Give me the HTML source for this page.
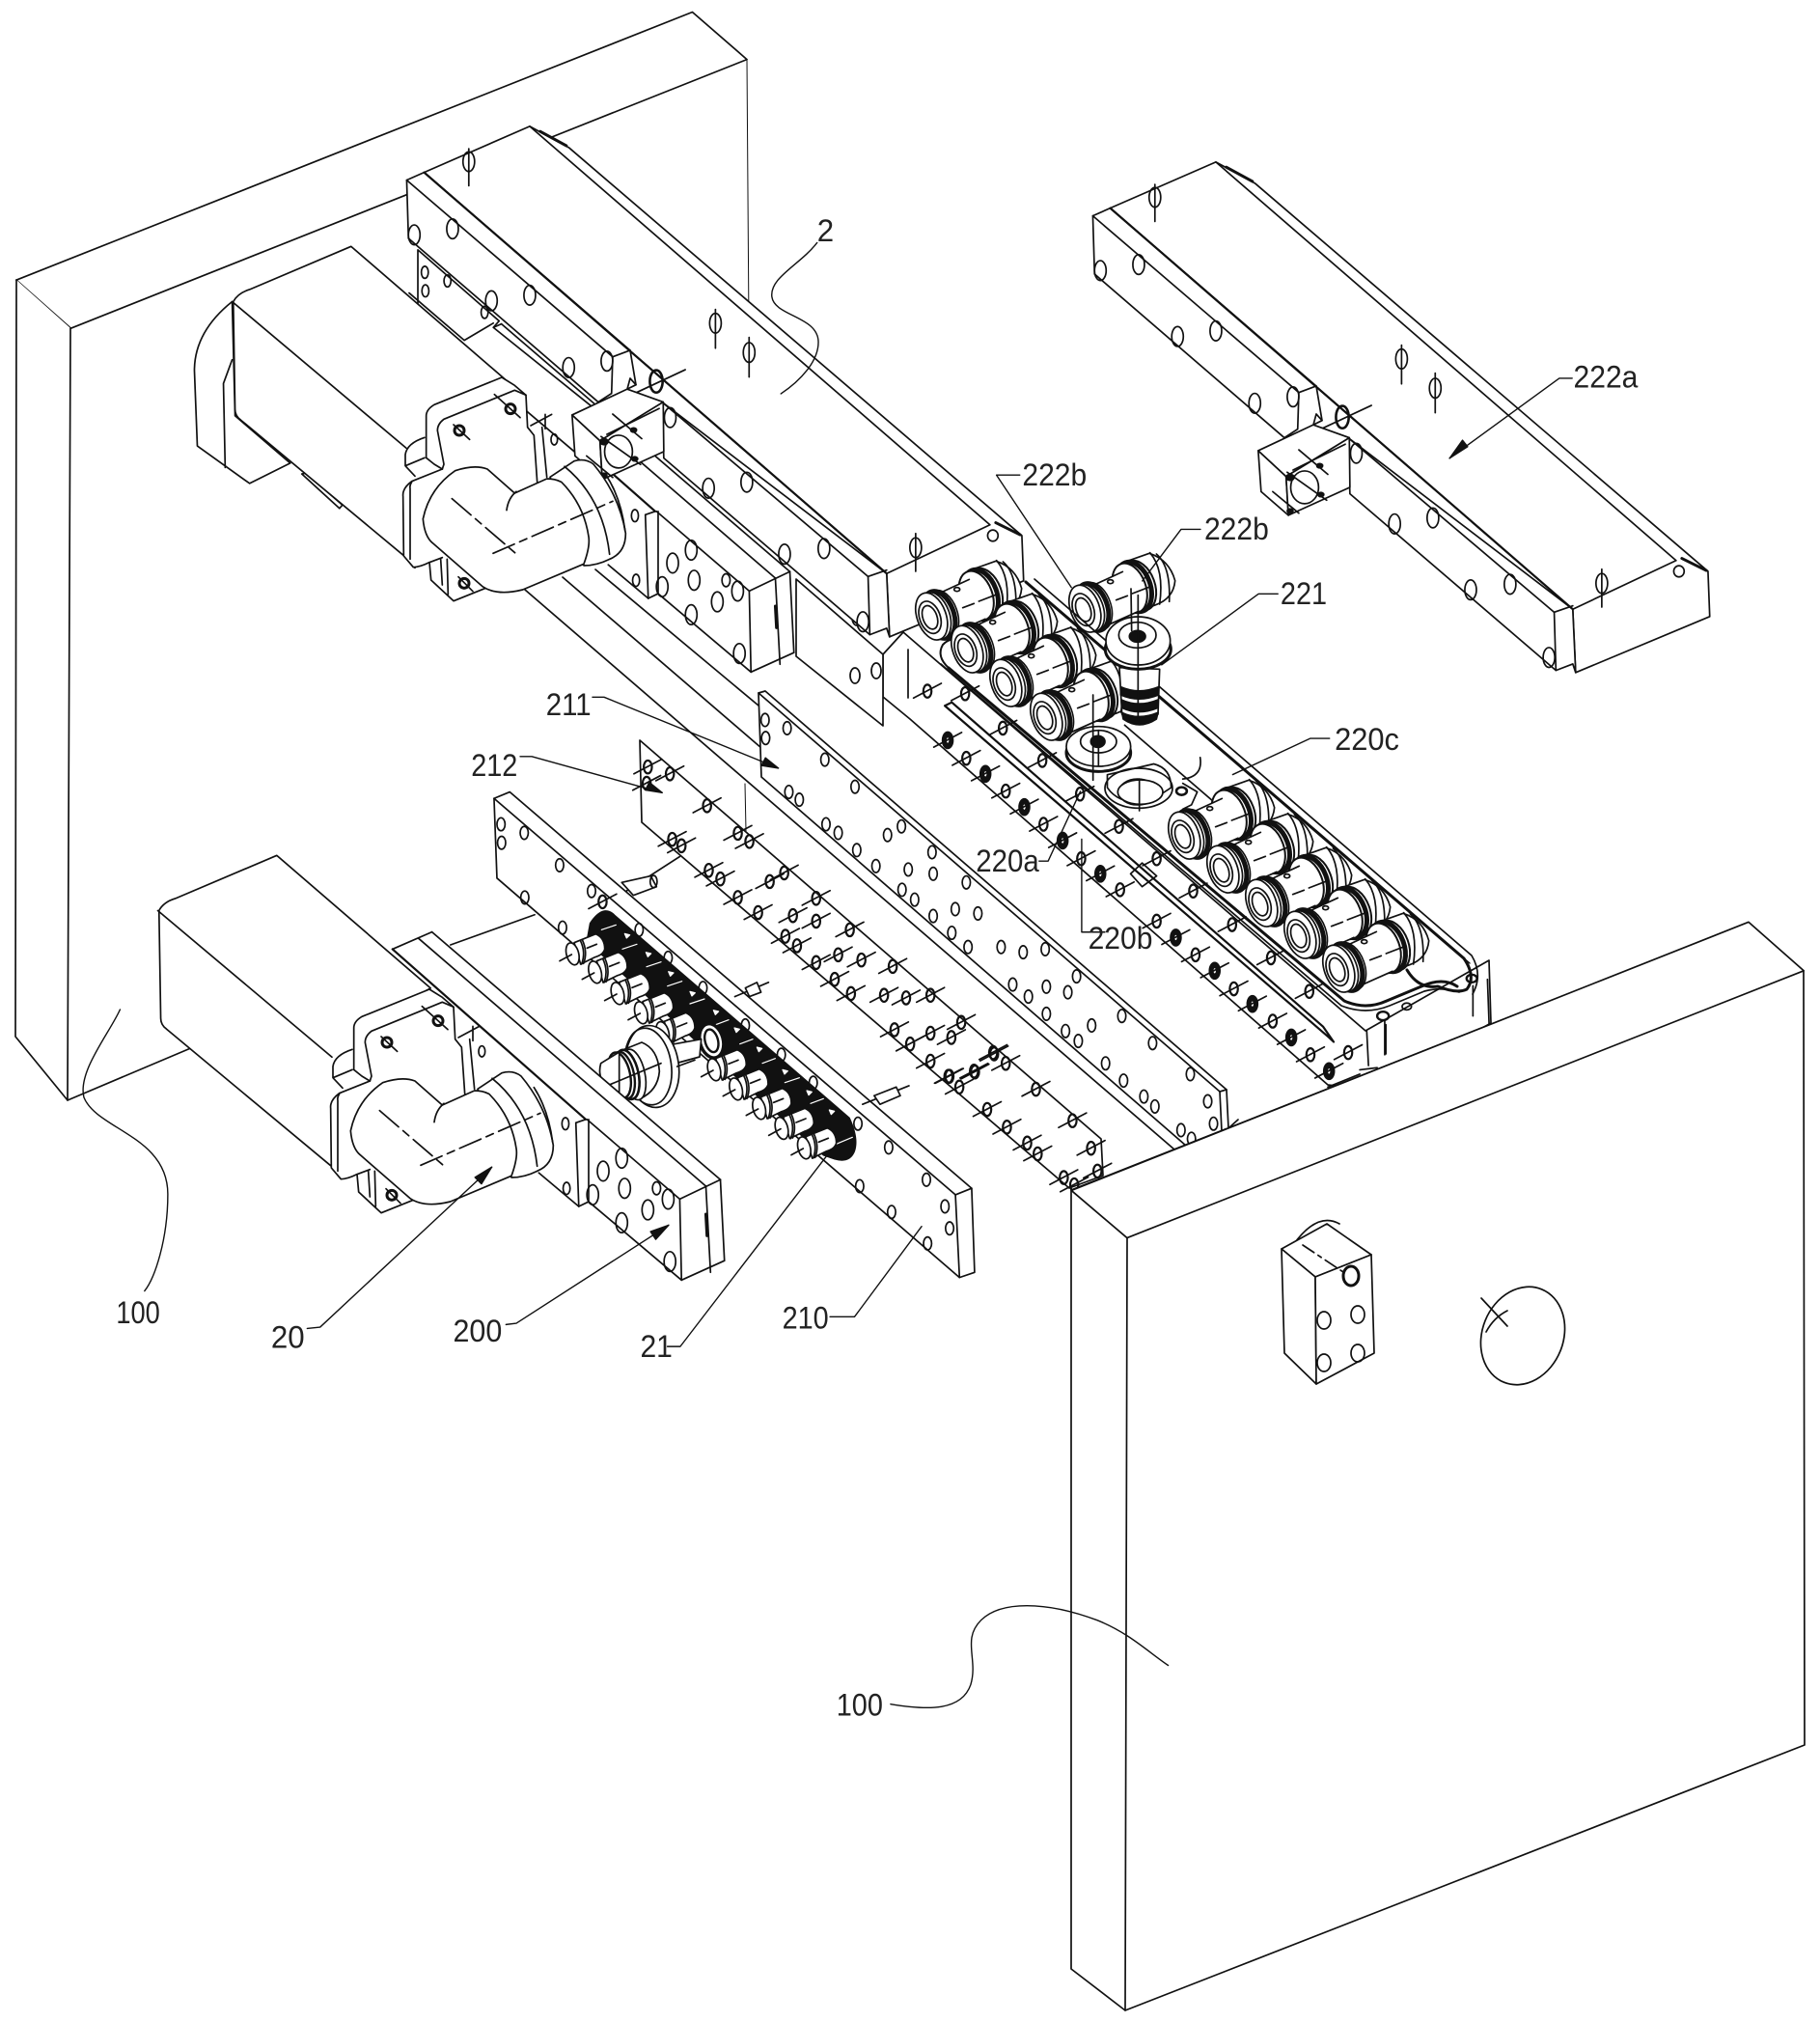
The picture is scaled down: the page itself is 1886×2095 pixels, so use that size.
<!DOCTYPE html>
<html><head><meta charset="utf-8"><title>Diagram</title>
<style>
html,body{margin:0;padding:0;background:#fff}
svg{display:block}
*{vector-effect:non-scaling-stroke}
g.d,use{fill:#fff;stroke:#111;stroke-width:1.7;stroke-linejoin:round;stroke-linecap:round}
.n{fill:none}
.t{stroke-width:2.2}
text{font-family:"Liberation Sans",sans-serif;font-size:24px;fill:#222;stroke:none}
</style></head><body>
<svg xmlns="http://www.w3.org/2000/svg" width="1886" height="2095" viewBox="0 0 1886 2095">
<rect width="1886" height="2095" fill="#fff"/>
<defs>
<g id="c"><ellipse cx="0" cy="0" rx="7" ry="15" fill="none" stroke-width="2.2"/><line x1="-24" y1="16" x2="24" y2="-18"/></g>
<g id="cb"><ellipse cx="0" cy="0" rx="9" ry="19" fill="#111"/><ellipse cx="0" cy="0" rx="2" ry="6" fill="#fff" stroke="none"/><line x1="-24" y1="16" x2="24" y2="-18"/></g>
<ellipse id="o" cx="0" cy="0" rx="7" ry="15" fill="none"/>
<ellipse id="b" cx="0" cy="0" rx="10" ry="23" fill="none"/>
<g id="cp">
<path d="M98,-140 L183,-170 Q245,-150 263,-85 Q258,-30 203,-10 L150,10 Z"/>
<path d="M205,-168 Q250,-130 245,-20" fill="none"/>
<path d="M185,-172 Q230,-120 215,-12" fill="none"/>
<ellipse cx="150" cy="-70" rx="50" ry="80" transform="rotate(-20 150 -70)" stroke-width="2"/>
<ellipse cx="136" cy="-66" rx="50" ry="80" transform="rotate(-20 136 -66)" stroke-width="5"/>
<ellipse cx="122" cy="-62" rx="50" ry="80" transform="rotate(-20 122 -62)" stroke-width="2"/>
<path d="M18,-75 L98,-110 L115,-60 L142,12 L60,50 Z" stroke="none"/>
<path d="M18,-75 L100,-113 M150,10 L60,50" fill="none"/>
<ellipse cx="18" cy="-6" rx="45" ry="76" transform="rotate(-20 18 -6)" stroke-width="1.6"/>
<ellipse cx="7" cy="-3" rx="45" ry="76" transform="rotate(-20 7 -3)" stroke-width="5"/>
<ellipse cx="-6" cy="0" rx="45" ry="76" transform="rotate(-20 -6 0)"/>
<ellipse cx="-17" cy="2" rx="45" ry="76" transform="rotate(-20 -17 2)"/>
<ellipse cx="-22" cy="5" rx="32" ry="52" transform="rotate(-20 -22 5)"/>
<ellipse cx="-22" cy="5" rx="22" ry="38" transform="rotate(-20 -22 5)"/>
<line x1="80" y1="-25" x2="115" y2="-38"/><line x1="130" y1="-45" x2="190" y2="-68"/>
<ellipse cx="62" cy="-82" rx="9" ry="6" fill="none"/>
</g>
<g id="pin">
<path d="M5,-35 L72,-62 Q100,-50 100,-15 Q95,3 70,10 L25,32 Z"/>
<path d="M24,-42 Q42,-5 28,32" fill="none"/><path d="M30,-44 Q48,-5 34,30" fill="none"/>
<ellipse cx="0" cy="0" rx="19" ry="35" transform="rotate(-15)"/>
<line x1="-40" y1="22" x2="-3" y2="2"/><line x1="45" y1="-18" x2="75" y2="-30"/>
</g>
<g id="act" transform="matrix(.6014,0,0,.4464,943,150)">
<path d="M527,40 L595,90 L1375,990 L1378,1095 L1147,1225 L1142,1078 Z"/>
<path d="M345,147 L527,40 L1320,965 L1142,1078 Z"/>
<path d="M315,165 L345,147 L700,560 L670,575 L668,660 L645,680 L318,300 Z"/>
<path d="M755,680 L1142,1078 L1147,1225 L1142,1205 L1113,1220 L758,810 Z"/>
<line x1="345" y1="147" x2="1142" y2="1078" class="t"/>
<line x1="1110" y1="1085" x2="1113" y2="1220"/><line x1="1110" y1="1085" x2="1142" y2="1070"/>
<line x1="755" y1="680" x2="1110" y2="1085"/><line x1="315" y1="165" x2="670" y2="575"/>
<line x1="700" y1="560" x2="710" y2="640"/><path d="M695,650 L700,625 L710,640 Z" fill="none"/>
<use href="#b" x="328" y="292"/><use href="#b" x="394" y="278"/><use href="#b" x="461" y="445"/><use href="#b" x="527" y="432"/><use href="#b" x="594" y="600"/><use href="#b" x="660" y="585"/><use href="#b" x="769" y="716"/><use href="#b" x="835" y="880"/><use href="#b" x="901" y="866"/><use href="#b" x="966" y="1033"/><use href="#b" x="1034" y="1020"/><use href="#b" x="1101" y="1190"/>
<use href="#b" x="422" y="122"/><line x1="422" y1="92" x2="422" y2="178"/>
<use href="#b" x="847" y="497"/><line x1="847" y1="465" x2="847" y2="555"/>
<use href="#b" x="905" y="565"/><line x1="905" y1="530" x2="905" y2="622"/>
<use href="#b" x="1192" y="1018"/><line x1="1192" y1="985" x2="1192" y2="1073"/>
<ellipse cx="745" cy="632" rx="11" ry="26" fill="none" stroke-width="2.6"/><line x1="695" y1="668" x2="795" y2="605"/>
<line x1="545" y1="52" x2="590" y2="85" stroke-width="3"/><line x1="1330" y1="960" x2="1372" y2="988" stroke-width="3"/>
<ellipse cx="1325" cy="990" rx="9" ry="13" fill="none"/>
<path d="M600,710 L695,650 L757,680 L648,770 Z"/>
<path d="M600,710 L648,770 L652,860 L605,805 Z"/>
<path d="M648,770 L757,680 L758,795 L652,860 Z"/>
<line x1="660" y1="755" x2="750" y2="695"/><line x1="670" y1="708" x2="720" y2="765"/>
<ellipse cx="680" cy="795" rx="24" ry="38" fill="none"/>
<line x1="650" y1="760" x2="718" y2="825"/><line x1="625" y1="805" x2="670" y2="855"/>
<circle cx="655" cy="772" r="7" fill="#111"/><circle cx="706" cy="745" r="5" fill="#111"/><circle cx="708" cy="812" r="5" fill="#111"/><circle cx="655" cy="850" r="5" fill="#111"/>
</g>
<g id="p200" transform="matrix(.6014,0,0,.4464,100,700)">
<path d="M555,610 L578,595 L1075,1170 L1082,1358 L1008,1403 L845,1215 L835,1230 L765,1150 L620,780 Z" stroke="none"/>
<line x1="510" y1="635" x2="843" y2="1030" class="t"/>
<line x1="510" y1="635" x2="578" y2="595"/><line x1="555" y1="610" x2="1050" y2="1185"/><line x1="578" y1="595" x2="1075" y2="1170"/>
<line x1="1005" y1="1215" x2="1075" y2="1170"/><line x1="1005" y1="1215" x2="1008" y2="1403"/>
<line x1="845" y1="1030" x2="1005" y2="1215"/><line x1="848" y1="1030" x2="848" y2="1221"/>
<line x1="1050" y1="1185" x2="1058" y2="1385"/><line x1="826" y1="1038" x2="831" y2="1232"/><line x1="826" y1="1038" x2="843" y2="1030"/>
<line x1="1075" y1="1170" x2="1082" y2="1358"/><line x1="1082" y1="1358" x2="1008" y2="1403"/><line x1="848" y1="1221" x2="1008" y2="1403"/><line x1="831" y1="1232" x2="848" y2="1221"/><line x1="762" y1="1154" x2="831" y2="1232"/>
<ellipse cx="808" cy="1040" rx="6" ry="14" fill="none"/><ellipse cx="810" cy="1190" rx="6" ry="14" fill="none"/>
<use href="#b" x="873" y="1150"/><use href="#b" x="905" y="1120"/><use href="#b" x="910" y="1190"/><use href="#b" x="950" y="1240"/><use href="#b" x="905" y="1270"/><use href="#b" x="855" y="1205"/><use href="#o" x="965" y="1190"/><use href="#b" x="985" y="1215"/><use href="#b" x="988" y="1360"/>
<line x1="1050" y1="1250" x2="1052" y2="1300" stroke-width="3"/>
</g>
<g id="body" transform="matrix(.6014,0,0,.4464,0,0)">
<path d="M402,700 Q410,680 430,672 L605,572 L870,880 L760,960 L745,1060 L715,1318 L705,1300 L415,975 Q405,965 405,950 Z"/>
<line x1="400" y1="700" x2="700" y2="1040"/>
</g>
<g id="fl" transform="translate(340,1000) scale(.33333)">
<path d="M80,195 Q80,175 105,160 L315,75 L390,130 L395,230 L415,255 L440,400 L360,430 L200,760 L95,705 L90,650 L40,665 L10,630 L8,440 L30,400 L80,360 Z" stroke="none"/>
<path d="M15,350 L15,315 Q20,280 75,262 M15,350 L75,325 M15,350 L45,382" fill="none"/>
<path d="M130,360 L35,398 Q5,420 8,445 L10,630 L40,665 Q60,665 90,650 L130,635" fill="none"/>
<path d="M30,420 L30,640 M35,400 Q28,410 30,420" fill="none"/>
<path d="M80,325 L80,195 Q80,175 105,160 L315,75 L355,100 L390,130 L395,230 L415,255 L425,400" fill="none"/>
<path d="M115,240 Q115,220 135,205 L355,115 L390,130 M115,240 L135,345 L130,360" fill="none"/>
<path d="M80,325 L105,345 L130,360" fill="none"/>
<path d="M440,230 L455,385 M405,225 L470,190 M450,190 L450,235" fill="none"/>
<ellipse cx="478" cy="268" rx="10" ry="17" fill="none"/>
<circle cx="183" cy="240" r="15" fill="none" stroke-width="3"/><line x1="165" y1="222" x2="215" y2="268"/>
<circle cx="342" cy="173" r="15" fill="none" stroke-width="3"/><line x1="292" y1="128" x2="372" y2="200"/>
<path d="M90,650 L95,705 L165,770 L265,730"/><path d="M125,640 L130,720 M145,640 L148,750" fill="none"/>
<circle cx="198" cy="715" r="15" fill="none" stroke-width="3"/><line x1="180" y1="695" x2="225" y2="740"/>
<path d="M465,385 L540,335 Q575,325 600,345 Q680,440 700,560 Q700,620 650,640 Q610,660 570,660 Z"/>
<path d="M510,352 Q630,450 650,625 M640,380 Q685,450 698,550" fill="none"/>
<path d="M355,435 L270,360 Q230,345 170,365 Q90,420 70,515 Q75,570 100,590 L255,725 Q300,755 380,735 L570,655 Q590,600 585,570 Q570,470 500,400 Q480,390 455,390 Z"/>
<path d="M360,430 Q335,450 330,488" fill="none"/>
<line x1="160" y1="452" x2="365" y2="628" stroke-dasharray="26 6 8 6" fill="none"/>
<line x1="288" y1="622" x2="660" y2="460" stroke-dasharray="24 6 8 6" fill="none"/>
</g>
</defs>

<!-- back plate -->
<g class="d">
<g transform="matrix(.6014,0,0,.4464,0,0)">
<path d="M28,650 L1193,28 L1287,138 L122,762 Z"/>
<line x1="1287" y1="138" x2="1290" y2="700" stroke-width="1"/>
</g>
<path d="M17,290 L16,1074 L70,1140 L73,340"/>
<line x1="70" y1="1140" x2="200" y2="1085"/>

<!-- rails -->
<line x1="544" y1="611" x2="1217" y2="1191"/>
<line x1="583" y1="598" x2="789" y2="775"/>
<line x1="617" y1="590" x2="786" y2="731"/>

<!-- base -->
<path d="M936,655 L1415,1068 L1543,995 L1545,1060 L1420,1130 L1376,1124 L943,745 L915,722 L915,678 Z"/>
<path d="M825,600 L915,678 L915,752 L825,680 Z"/>
<line x1="941" y1="673" x2="941" y2="723"/>
<ellipse cx="888" cy="640" rx="5" ry="8" fill="none"/><ellipse cx="908" cy="695" rx="5" ry="8" fill="none"/><ellipse cx="886" cy="700" rx="5" ry="8" fill="none"/>
<path d="M983,692 L1393,1037 Q1415,1047 1437,1037 L1473,1022 Q1495,1012 1510,1022" fill="none" stroke-width="3"/>
<path d="M975,688 L1390,1042 Q1415,1052 1440,1042 L1476,1027 Q1495,1022 1512,1028" fill="none"/>
<path d="M983,692 Q970,680 977,668 Q985,660 992,664" fill="none" stroke-width="2"/>
<g transform="matrix(.6014,0,0,.4464,943,700)">
<line x1="787" y1="825" x2="790" y2="905"/><line x1="820" y1="810" x2="820" y2="878"/><line x1="970" y1="720" x2="970" y2="790"/>
<line x1="995" y1="705" x2="998" y2="815"/>
<path d="M60,70 L722,840 L730,850 L712,815 L72,62 Z" fill="none" class="t"/>
<path d="M340,230 L420,205 Q450,215 450,260 L410,295 Q360,300 340,260 Z"/>
<ellipse cx="392" cy="270" rx="32" ry="30"/><ellipse cx="390" cy="275" rx="25" ry="20"/><line x1="395" y1="240" x2="395" y2="295"/>
<path d="M470,240 Q505,235 500,190" fill="none"/><line x1="370" y1="115" x2="590" y2="370"/><ellipse cx="468" cy="268" rx="9" ry="9" fill="none" stroke-width="2.6"/><path d="M470,250 L495,270 L485,300 L470,310" fill="none"/>
<ellipse cx="815" cy="790" rx="10" ry="10" fill="none" stroke-width="2.4"/><line x1="818" y1="800" x2="818" y2="880"/><ellipse cx="856" cy="768" rx="8" ry="8" fill="none"/><ellipse cx="968" cy="703" rx="9" ry="9" fill="none" stroke-width="2.4"/>
<use href="#c" x="30" y="36"/><use href="#cb" x="65" y="150"/><use href="#c" x="97" y="192"/><use href="#cb" x="130" y="228"/><use href="#c" x="165" y="268"/><use href="#cb" x="197" y="305"/><use href="#c" x="230" y="345"/><use href="#cb" x="263" y="383"/><use href="#c" x="295" y="425"/><use href="#cb" x="328" y="460"/><use href="#c" x="362" y="497"/><use href="#c" x="425" y="570"/><use href="#cb" x="458" y="608"/><use href="#c" x="492" y="648"/><use href="#cb" x="525" y="685"/><use href="#c" x="558" y="727"/><use href="#cb" x="590" y="762"/><use href="#c" x="625" y="802"/><use href="#cb" x="657" y="840"/><use href="#c" x="690" y="880"/><use href="#cb" x="722" y="918"/>
<use href="#c" x="95" y="42"/><use href="#c" x="160" y="122"/><use href="#c" x="228" y="197"/><use href="#c" x="293" y="275"/><use href="#c" x="360" y="350"/><use href="#c" x="425" y="425"/><use href="#c" x="488" y="500"/><use href="#c" x="555" y="578"/><use href="#c" x="622" y="655"/><use href="#c" x="688" y="733"/><use href="#c" x="755" y="875"/>
<line x1="775" y1="915" x2="805" y2="910"/><line x1="720" y1="955" x2="775" y2="925"/>
<path d="M380,460 L400,435 L425,465 L400,490 Z" fill="none"/>
</g>
</g>

<!-- upper plate & actuators -->
<use href="#p200" transform="translate(72,-630)"/>
<g class="d" transform="matrix(.6014,0,0,.4464,0,0)">
<path d="M720,580 L860,745 L850,760 L1035,960 L1060,1000 L1000,1060 L720,740 Z"/>
<path d="M705,680 L800,790 L850,750" class="n"/>
<ellipse cx="732" cy="632" rx="6" ry="14" fill="none"/><ellipse cx="733" cy="675" rx="6" ry="14" fill="none"/><ellipse cx="771" cy="652" rx="6" ry="14" fill="none"/><ellipse cx="835" cy="725" rx="6" ry="14" fill="none"/>
</g>
<use href="#act"/>
<use href="#act" transform="translate(-711,-37)"/>

<!-- couplings & stacks -->
<g class="d">
<use href="#cp" transform="translate(1130,630) scale(.33333)"/>
<use href="#cp" transform="translate(971,638) scale(.33333)"/>
<use href="#cp" transform="translate(1008,672) scale(.33333)"/>
<use href="#cp" transform="translate(1048,707) scale(.33333)"/>
<use href="#cp" transform="translate(1090,742) scale(.33333)"/>
<use href="#cp" transform="translate(1233,865) scale(.33333)"/>
<use href="#cp" transform="translate(1273,900) scale(.33333)"/>
<use href="#cp" transform="translate(1313,935) scale(.33333)"/>
<use href="#cp" transform="translate(1353,968) scale(.33333)"/>
<use href="#cp" transform="translate(1393,1003) scale(.33333)"/>
<!-- seal top run -->
<path d="M1063,603 L1517,993 Q1530,1012 1520,1025 Q1510,1030 1490,1022 Q1470,1025 1458,1005" fill="none" stroke-width="3"/>
<path d="M1072,600 L1525,990 Q1537,1010 1526,1030" fill="none"/>
<path d="M1203,723 L1523,998" fill="none" stroke-width="1.4"/>
<g transform="translate(940,560) scale(.33333)">
<path d="M660,395 L668,540 Q720,590 780,540 L785,400 Z"/>
<path d="M664,455 Q720,480 782,455 L782,480 Q720,505 664,480 Z" fill="#111"/>
<path d="M666,495 Q720,520 780,495 L780,520 Q720,545 668,520 Z" fill="#111"/>
<path d="M668,535 Q720,560 780,535 L775,555 Q722,590 672,555 Z" fill="#111"/>
<ellipse cx="718" cy="338" rx="102" ry="62" stroke-width="3"/>
<ellipse cx="718" cy="312" rx="100" ry="75"/>
<ellipse cx="716" cy="294" rx="58" ry="40"/>
<ellipse cx="716" cy="298" rx="25" ry="18" fill="#111"/>
<line x1="718" y1="170" x2="718" y2="560"/><line x1="696" y1="150" x2="698" y2="280"/>
<ellipse cx="720" cy="770" rx="105" ry="62" fill="none"/>
<ellipse cx="725" cy="782" rx="70" ry="38"/>
<line x1="722" y1="745" x2="722" y2="840"/>
<ellipse cx="595" cy="660" rx="100" ry="58" stroke-width="3"/>
<ellipse cx="595" cy="640" rx="100" ry="62"/>
<ellipse cx="595" cy="625" rx="56" ry="35"/>
<ellipse cx="593" cy="625" rx="22" ry="18" fill="#111"/>
<line x1="578" y1="480" x2="578" y2="745"/><line x1="595" y1="590" x2="595" y2="700"/>
</g>
</g>

<!-- upper motor with rear lump -->
<g class="d" transform="matrix(.6014,0,0,.4464,0,0)">
<path d="M400,700 Q335,770 335,860 L340,1035 L430,1122 L500,1075 L405,965 Z"/>
<path d="M400,835 L385,890 L388,1085" fill="none"/>
<path d="M520,1100 L585,1180 L590,1172 L527,1098 Z" fill="none"/>
</g>
<use href="#body"/>
<use href="#fl" transform="translate(75,-634)"/>

<!-- plates 211, 212, 210 -->
<g class="d">
<path d="M786,718 L793,716 L1271,1129 L1273,1169 L1229,1187 L789,805 Z"/>
<line x1="786" y1="718" x2="1264" y2="1131"/><line x1="1264" y1="1131" x2="1271" y2="1129"/><line x1="1264" y1="1131" x2="1266" y2="1172"/>
<line x1="1273" y1="1169" x2="1283" y2="1160"/>
<path d="M663,767 L1141,1180 L1143,1218 L1108,1231 L665,852 Z"/>
<line x1="772" y1="812" x2="773" y2="861" stroke-width="1"/>
<g transform="matrix(.6014,0,0,.4464,100,700)">
<use href="#o" x="1152" y="103"/><use href="#o" x="1190" y="122"/><use href="#o" x="1153" y="145"/><use href="#o" x="1255" y="195"/><use href="#o" x="1307" y="258"/><use href="#o" x="1193" y="270"/><use href="#o" x="1211" y="288"/><use href="#o" x="1257" y="345"/><use href="#o" x="1278" y="365"/><use href="#o" x="1387" y="350"/><use href="#o" x="1363" y="370"/><use href="#o" x="1310" y="405"/><use href="#o" x="1343" y="442"/><use href="#o" x="1388" y="497"/>
<use href="#c" x="950" y="212"/><use href="#c" x="988" y="228"/><use href="#c" x="948" y="250"/><use href="#c" x="1052" y="302"/><use href="#c" x="1105" y="366"/><use href="#c" x="1125" y="385"/><use href="#c" x="992" y="380"/><use href="#c" x="1008" y="395"/><use href="#c" x="1055" y="452"/><use href="#c" x="1075" y="472"/><use href="#c" x="1185" y="458"/><use href="#c" x="1160" y="478"/><use href="#c" x="1105" y="515"/><use href="#c" x="1140" y="550"/><use href="#c" x="1240" y="517"/><use href="#c" x="1200" y="557"/><use href="#c" x="1240" y="570"/><use href="#c" x="1298" y="590"/><use href="#c" x="1187" y="605"/><use href="#c" x="1207" y="627"/><use href="#c" x="1278" y="648"/><use href="#c" x="1240" y="666"/><use href="#c" x="1318" y="660"/><use href="#c" x="1372" y="675"/><use href="#c" x="1272" y="705"/><use href="#c" x="1300" y="738"/><use href="#c" x="1357" y="742"/><use href="#c" x="1395" y="748"/><use href="#c" x="1437" y="742"/><use href="#c" x="1490" y="805"/><use href="#c" x="1437" y="830"/><use href="#c" x="1375" y="822"/><use href="#c" x="1402" y="855"/><use href="#c" x="1473" y="840"/><use href="#c" x="1437" y="895"/><use href="#c" x="1468" y="930"/><use href="#c" x="1512" y="918"/><use href="#c" x="1545" y="875"/>
</g>
<g transform="matrix(.6014,0,0,.4464,943,700)">
<use href="#o" x="38" y="410"/><use href="#o" x="-3" y="450"/><use href="#o" x="40" y="460"/><use href="#o" x="97" y="480"/><use href="#o" x="8" y="520"/><use href="#o" x="78" y="542"/><use href="#o" x="40" y="558"/><use href="#o" x="117" y="552"/><use href="#o" x="72" y="597"/><use href="#o" x="100" y="630"/><use href="#o" x="157" y="630"/><use href="#o" x="195" y="642"/><use href="#o" x="233" y="635"/><use href="#o" x="287" y="698"/><use href="#o" x="177" y="717"/><use href="#o" x="235" y="722"/><use href="#o" x="204" y="745"/><use href="#o" x="272" y="735"/><use href="#o" x="235" y="785"/><use href="#o" x="313" y="812"/><use href="#o" x="268" y="825"/><use href="#o" x="290" y="848"/><use href="#o" x="365" y="790"/><use href="#o" x="418" y="853"/><use href="#o" x="337" y="900"/><use href="#o" x="483" y="925"/><use href="#o" x="368" y="940"/><use href="#o" x="403" y="977"/><use href="#o" x="422" y="1000"/><use href="#o" x="513" y="988"/><use href="#o" x="523" y="1040"/><use href="#o" x="467" y="1055"/><use href="#o" x="485" y="1075"/>
<use href="#c" x="145" y="878"/><use href="#c" x="165" y="900"/><use href="#c" x="68" y="930"/><use href="#c" x="112" y="920"/><use href="#c" x="85" y="955"/><use href="#c" x="217" y="960"/><use href="#c" x="133" y="1007"/><use href="#c" x="280" y="1033"/><use href="#c" x="167" y="1048"/><use href="#c" x="202" y="1085"/><use href="#c" x="312" y="1097"/><use href="#c" x="220" y="1110"/><use href="#c" x="323" y="1150"/><use href="#c" x="265" y="1165"/><use href="#c" x="283" y="1182"/>
</g>
<g transform="matrix(.6014,0,0,.4464,100,700)">
<line x1="610" y1="625" x2="755" y2="555"/>
<line x1="890" y1="520" x2="1005" y2="420"/>
<path d="M905,480 L955,465 L965,490 L925,510 Z"/><ellipse cx="960" cy="478" rx="6" ry="14" fill="none"/>
<path d="M685,285 L712,270 L1508,1190 L1513,1385 L1487,1397 L690,470 Z"/>
<line x1="685" y1="285" x2="1480" y2="1205"/><line x1="1480" y1="1205" x2="1508" y2="1190"/><line x1="1480" y1="1205" x2="1487" y2="1397"/>
<use href="#o" x="697" y="345"/><use href="#o" x="737" y="365"/><use href="#o" x="698" y="388"/><use href="#o" x="798" y="440"/><use href="#o" x="853" y="500"/><use href="#o" x="738" y="515"/><use href="#o" x="803" y="585"/><use href="#o" x="935" y="590"/><use href="#o" x="985" y="655"/><use href="#o" x="1045" y="725"/><use href="#o" x="1118" y="812"/><use href="#o" x="1180" y="880"/><use href="#o" x="1235" y="945"/><use href="#o" x="1312" y="1040"/><use href="#o" x="1365" y="1095"/><use href="#o" x="1430" y="1170"/><use href="#o" x="1462" y="1232"/><use href="#o" x="1470" y="1283"/><use href="#o" x="1432" y="1318"/><use href="#o" x="1315" y="1185"/><use href="#o" x="1370" y="1245"/>
<use href="#c" x="872" y="525"/>
<line x1="1100" y1="745" x2="1158" y2="712"/><path d="M1118,725 L1138,712 L1145,735 L1125,745 Z"/>
<line x1="1320" y1="995" x2="1400" y2="952"/><path d="M1340,975 L1378,955 L1385,975 L1350,995 Z"/>
</g>
<!-- chain, pins, flange -->
<g transform="translate(570,930) scale(.33333)">
<path d="M125,80 Q165,20 200,55 L930,685 Q960,750 945,790 Q930,825 885,812 L850,800 L470,460 L115,135 Z" fill="#111"/>
<g stroke="#fff" fill="#fff" stroke-width="1.2">
<path d="M232,112 L248,116 L238,126 Z"/><path d="M298,170 L314,174 L304,184 Z"/><path d="M368,230 L384,234 L374,244 Z"/><path d="M435,292 L451,296 L441,306 Z"/><path d="M508,350 L524,354 L514,364 Z"/><path d="M573,405 L589,409 L579,419 Z"/><path d="M643,465 L659,469 L649,479 Z"/><path d="M723,535 L739,539 L729,549 Z"/><path d="M798,600 L814,604 L804,614 Z"/><path d="M868,660 L884,664 L874,674 Z"/>
<path d="M160,100 L205,85 M225,160 L270,145 M300,215 L345,200 M365,275 L410,260 M435,330 L480,315 M515,395 L555,380 M590,455 L630,440 M660,515 L700,500 M730,575 L775,560 M810,640 L850,625 M880,770 L940,745" fill="none"/>
</g>
<use href="#pin" x="70" y="175"/><use href="#pin" x="140" y="232"/><use href="#pin" x="210" y="298"/><use href="#pin" x="283" y="358"/>
<ellipse cx="502" cy="445" rx="36" ry="54" transform="rotate(-15 502 445)" stroke-width="3.4"/><ellipse cx="502" cy="445" rx="20" ry="36" transform="rotate(-15 502 445)" stroke-width="2.4"/>
<use href="#pin" x="350" y="420"/>
<use href="#pin" x="510" y="535"/><use href="#pin" x="578" y="595"/><use href="#pin" x="650" y="655"/><use href="#pin" x="720" y="717"/><use href="#pin" x="790" y="778"/>
<path d="M360,460 L470,440 L465,495 L355,525 Z"/>
<ellipse cx="318" cy="525" rx="82" ry="128" transform="rotate(-8 318 525)"/>
<ellipse cx="305" cy="525" rx="72" ry="120" transform="rotate(-8 305 525)" fill="none"/>
<path d="M210,480 L285,450 Q335,470 340,540 Q335,600 280,625 L210,620 Z"/>
<ellipse cx="260" cy="550" rx="35" ry="80" transform="rotate(-12 260 550)"/>
<ellipse cx="240" cy="550" rx="35" ry="78" transform="rotate(-12 240 550)" stroke-width="2.6"/>
<ellipse cx="228" cy="552" rx="33" ry="74" transform="rotate(-12 228 552)" stroke-width="2.4"/>
<ellipse cx="216" cy="552" rx="33" ry="72" transform="rotate(-12 216 552)" stroke-width="2.4"/>
<path d="M158,515 L215,480 L215,620 L180,590 Q145,560 158,515 Z"/>
<line x1="105" y1="615" x2="345" y2="515"/><line x1="395" y1="525" x2="450" y2="505"/>
</g>
</g>
<use href="#p200"/>
<use href="#body" transform="translate(-77,631)"/>
<use href="#fl"/>

<!-- front plate -->
<g class="d">
<path d="M1110,1233 L1812,956 L1869,1006 L1870,1808 L1166,2083 L1110,2040 Z"/>
<g transform="matrix(.6014,0,0,.4464,943,700)">
<path d="M278,1195 L1445,572 L1540,685 L374,1305 Z"/>
</g>
<line x1="1168" y1="1283" x2="1166" y2="2083"/>
<path d="M1340,1290 Q1365,1255 1388,1268" class="n"/>
<path d="M1328,1294 L1375,1268 L1421,1300 L1363,1323 Z"/>
<path d="M1328,1294 L1331,1402 L1364,1434 L1363,1323 Z"/>
<path d="M1363,1323 L1421,1300 L1424,1402 L1364,1434 Z"/>
<line x1="1350" y1="1290" x2="1395" y2="1320" stroke-dasharray="14 5 4 5"/>
<ellipse cx="1400" cy="1322" rx="8" ry="10" fill="none" stroke-width="3"/>
<ellipse cx="1372" cy="1368" rx="7" ry="9" fill="none"/><ellipse cx="1407" cy="1362" rx="7" ry="9" fill="none"/><ellipse cx="1372" cy="1412" rx="7" ry="9" fill="none"/><ellipse cx="1407" cy="1402" rx="7" ry="9" fill="none"/>
<ellipse cx="1578" cy="1384" rx="42" ry="52" transform="rotate(22 1578 1384)" fill="none"/>
<line x1="1535" y1="1345" x2="1562" y2="1374"/>
<path d="M1540,1380 Q1548,1365 1562,1358" class="n"/>
</g>

<!-- leaders & labels -->
<g transform="scale(1.3376)" class="d" fill="none">
<g fill="none" stroke-width="1.4">
<path fill="none" d="M633,188 C620,205 596,215 598,230 C600,245 634,245 634,265 C634,280 620,295 605,305"/>
<path fill="none" d="M1218,293 L1208,293 L1123,355"/><path d="M1123,355 L1133,341 L1137,346 Z" fill="#111"/>
<path fill="none" d="M790,368 L772,368 L830,455"/>
<path fill="none" d="M930,410 L915,410 L885,450"/>
<path fill="none" d="M990,460 L975,460 L900,515"/>
<path fill="none" d="M1030,572 L1015,572 L955,600"/>
<path fill="none" d="M459,540 L468,540 L603,595"/><path d="M603,595 L590,593 L593,587 Z" fill="#111"/>
<path fill="none" d="M403,586 L412,586 L513,614"/><path d="M513,614 L500,612 L503,606 Z" fill="#111"/>
<path fill="none" d="M93,782 C85,800 60,830 65,850 C75,875 130,880 130,925 C130,960 120,990 112,1000"/>
<path fill="none" d="M238,1029 L248,1028 L381,904"/><path d="M381,904 L373,917 L368,912 Z" fill="#111"/>
<path fill="none" d="M392,1026 L400,1025 L518,949"/><path d="M518,949 L508,960 L504,954 Z" fill="#111"/>
<path fill="none" d="M517,1043 L527,1043 L643,892"/>
<path fill="none" d="M643,1020 L662,1020 L714,950"/>
<path fill="none" d="M690,1320 C720,1325 745,1325 752,1305 C758,1285 745,1270 760,1255 C775,1240 810,1240 850,1255 C875,1265 890,1280 905,1290"/>
<path fill="none" d="M805,667 L812,667 L837,613"/>
<path fill="none" d="M856,722 L838,722 L838,650"/>
</g>
</g>
<g transform="scale(1.3376)">
<text x="633" y="187" textLength="13" lengthAdjust="spacingAndGlyphs">2</text>
<text x="1219" y="300" textLength="50" lengthAdjust="spacingAndGlyphs">222a</text>
<text x="792" y="376" textLength="50" lengthAdjust="spacingAndGlyphs">222b</text>
<text x="933" y="418" textLength="50" lengthAdjust="spacingAndGlyphs">222b</text>
<text x="992" y="468" textLength="36" lengthAdjust="spacingAndGlyphs">221</text>
<text x="1034" y="581" textLength="50" lengthAdjust="spacingAndGlyphs">220c</text>
<text x="423" y="554" textLength="35" lengthAdjust="spacingAndGlyphs">211</text>
<text x="365" y="601" textLength="36" lengthAdjust="spacingAndGlyphs">212</text>
<text x="756" y="675" textLength="49" lengthAdjust="spacingAndGlyphs">220a</text>
<text x="843" y="735" textLength="50" lengthAdjust="spacingAndGlyphs">220b</text>
<text x="90" y="1025" textLength="34" lengthAdjust="spacingAndGlyphs">100</text>
<text x="210" y="1044" textLength="26" lengthAdjust="spacingAndGlyphs">20</text>
<text x="351" y="1039" textLength="38" lengthAdjust="spacingAndGlyphs">200</text>
<text x="496" y="1051" textLength="25" lengthAdjust="spacingAndGlyphs">21</text>
<text x="606" y="1029" textLength="36" lengthAdjust="spacingAndGlyphs">210</text>
<text x="648" y="1329" textLength="36" lengthAdjust="spacingAndGlyphs">100</text>
</g>
</svg>
</body></html>
